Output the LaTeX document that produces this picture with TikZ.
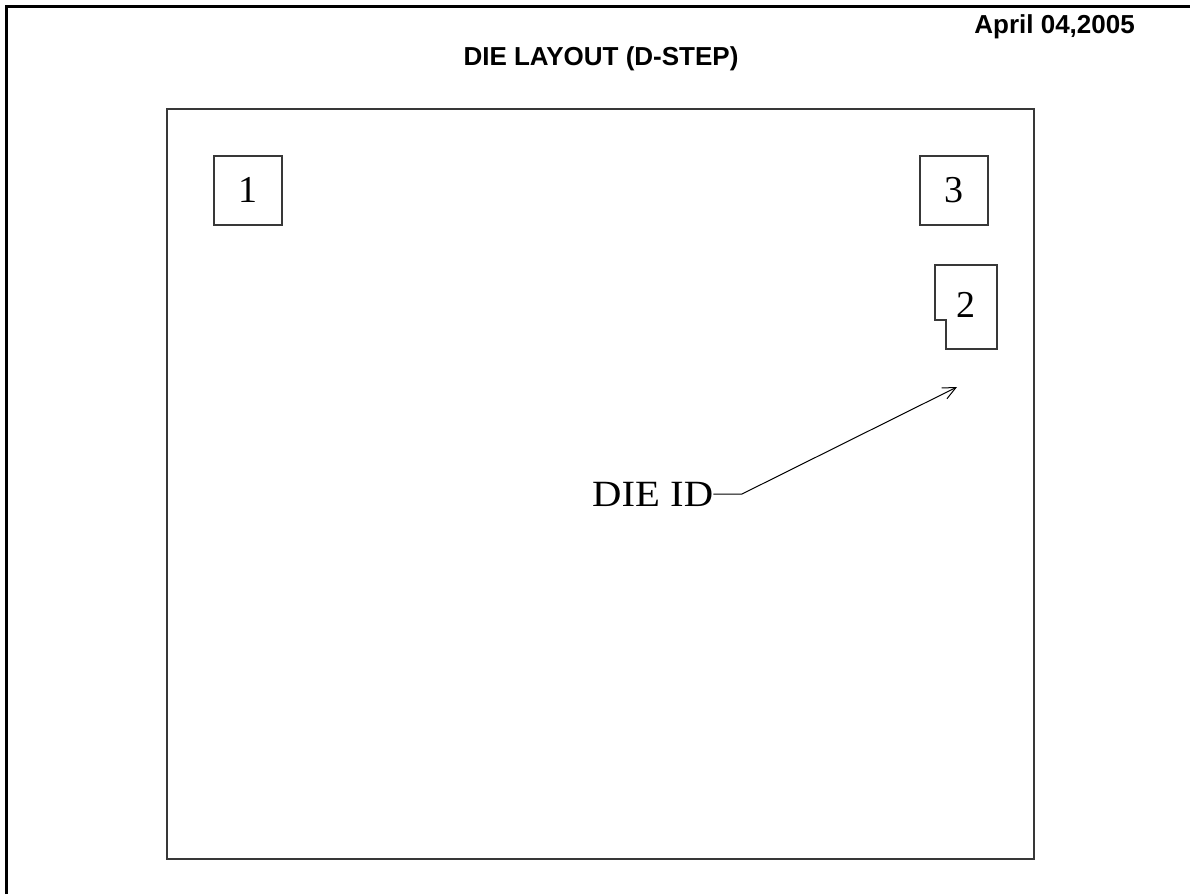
\documentclass[tikz,border=0pt]{standalone}
\usepackage{fontspec}
\setmainfont{Liberation Serif}
\newfontfamily\arialfont{Liberation Sans}
\usetikzlibrary{arrows.meta}
\tikzset{
  frameline/.style={line width=3pt, black},
  dieline/.style={line width=1.8pt, black!78},
  padbox/.style={draw=black!78, line width=1.8pt, inner sep=0pt, minimum width=68pt, minimum height=69pt, font=\fontsize{38}{40}\selectfont},
  headtext/.style={inner sep=0pt, font=\arialfont\bfseries\fontsize{26}{30}\selectfont},
  pointer/.style={line width=1pt, -{Straight Barb[length=13pt,width=12pt,line width=1pt]}},
}
\begin{document}
\begin{tikzpicture}[x=1pt,y=-1pt]
\useasboundingbox (0,0) rectangle (1190,894);
\fill[white] (0,0) rectangle (1190,894);
% outer sheet frame (only top and left visible)
\draw[frameline] (6,894) -- (6,6) -- (1190,6);
% header texts
\node[headtext, anchor=base east] (date) at (1135,33) {April 04,2005};
\node[headtext, anchor=base] (title) at (601,65) {DIE LAYOUT (D-STEP)};
% die outline
\draw[dieline] (167,109) rectangle (1034,859);
% pads
\node[padbox, anchor=north west] (pad1) at (213,155) {1};
\node[padbox, anchor=north west] (pad3) at (919,155) {3};
\draw[dieline] (935,265) -- (997,265) -- (997,349) -- (946,349) -- (946,320) -- (935,320) -- cycle;
\node[inner sep=0pt, font=\fontsize{38}{40}\selectfont] (pad2) at (966,305) {2};
% die id label and pointer
\node[inner sep=0pt, anchor=base west, font=\fontsize{37}{40}\selectfont, xscale=1.1] (dieid) at (592,506) {DIE ID};
\coordinate (kink) at (742,494);
\coordinate (tip) at (957,387);
\draw[pointer] (dieid.east |- kink) -- (kink) -- (tip);
\end{tikzpicture}
\end{document}
